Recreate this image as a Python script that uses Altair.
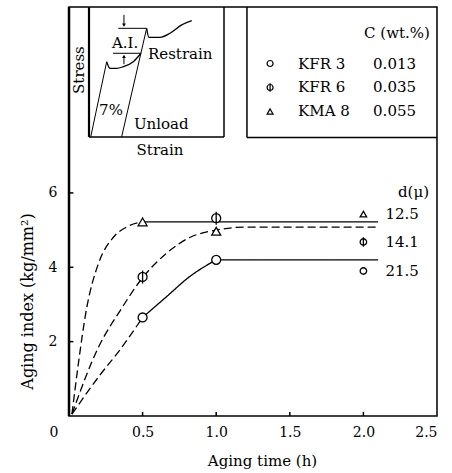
import altair as alt
import pandas as pd

FONT = "DejaVu Serif"

# ---------------- data ----------------
steels = ["KFR 3", "KFR 6", "KMA 8"]
carbon = ["0.013", "0.035", "0.055"]
grain = ["21.5", "14.1", "12.5"]
times = [0.5, 1.0, 2.0]
ai_kfr3 = [2.65, 4.2, 3.9]
ai_kfr6 = [3.74, 5.32, 4.68]
ai_kma8 = [5.22, 4.97, 5.43]

# hand-fitted curves
kma8_rise_t = [0.02, 0.06, 0.12, 0.2, 0.3, 0.4, 0.5]
kma8_rise_v = [0.05, 1.3, 2.9, 4.1, 4.8, 5.1, 5.22]
kma8_flat_t = [0.5, 2.1]
kma8_flat_v = [5.22, 5.22]
kfr6_t = [0.02, 0.2, 0.35, 0.5, 0.66, 0.82, 1.0, 1.2, 2.1]
kfr6_v = [0.05, 1.85, 2.85, 3.72, 4.37, 4.8, 5.0, 5.08, 5.08]
kfr3_rise_t = [0.02, 0.21, 0.35, 0.5]
kfr3_rise_v = [0.05, 1.1, 1.8, 2.65]
kfr3_bend_t = [0.5, 0.66, 0.82, 1.0]
kfr3_bend_v = [2.65, 3.2, 3.75, 4.2]
kfr3_flat_t = [1.0, 2.1]
kfr3_flat_v = [4.2, 4.2]

# inset schematic (strain, stress in % of the inset box)
load_e = [1.3, 13.1]
load_s = [0.2, 57.9]
flow_e = [13.1, 15.6, 20.5, 25.4, 32.8, 38.5]
flow_s = [57.9, 52.8, 52.8, 54.1, 57.9, 64.4]
unload_e = [24.2, 42.7]
unload_s = [0.2, 83.6]
reflow_e = [42.7, 44.4, 52.6, 60.0, 68.7, 76.1]
reflow_s = [83.6, 76.7, 76.7, 79.8, 86.2, 89.5]
ai_top_e = [21.7, 42.7]
ai_top_s = [83.6, 83.6]
ai_bot_e = [17.8, 38.5]
ai_bot_s = [64.4, 64.4]
arrow_dn_e = [25.9, 25.9]
arrow_dn_s = [94.0, 86.0]
arrow_up_e = [25.9, 25.9]
arrow_up_s = [56.0, 62.0]

x_ticks = [0.5, 1.0, 1.5, 2.0, 2.5]
y_ticks = [2, 4, 6]

# ---------------- tables ----------------
def seg_rows(name, style, xs, ys):
    return [dict(seg=name, style=style, t=a, v=b, o=i) for i, (a, b) in enumerate(zip(xs, ys))]

curves = pd.DataFrame(
    seg_rows("kma8a", "dash", kma8_rise_t, kma8_rise_v)
    + seg_rows("kma8b", "solid", kma8_flat_t, kma8_flat_v)
    + seg_rows("kfr6", "dash", kfr6_t, kfr6_v)
    + seg_rows("kfr3a", "dash", kfr3_rise_t, kfr3_rise_v)
    + seg_rows("kfr3b", "solid", kfr3_bend_t, kfr3_bend_v)
    + seg_rows("kfr3c", "solid", kfr3_flat_t, kfr3_flat_v)
)

series_vals = {"KFR 3": ai_kfr3, "KFR 6": ai_kfr6, "KMA 8": ai_kma8}
pts = []
for s in steels:
    for t, v in zip(times, series_vals[s]):
        pts.append(dict(steel=s, t=t, v=v, sz=42 if t == 2.0 else 80))
pts = pd.DataFrame(pts)

lab = pd.DataFrame(dict(steel=steels, d=grain, t=[2.0] * 3,
                        v=[series_vals[s][-1] for s in steels]))

leg_y0, leg_step = 9.48, 0.645
leg = pd.DataFrame(dict(steel=steels, c=carbon,
                        v=[leg_y0 - i * leg_step for i in range(3)],
                        t=[1.366] * 3))

PHI = "M1,0A1,1,0,1,1,-1,0A1,1,0,1,1,1,0M0,-1.45L0,1.45"
shape_scale = alt.Scale(domain=steels, range=["circle", PHI, "triangle-up"])

XS = alt.Scale(domain=[0, 2.5], nice=False, zero=False)
YS = alt.Scale(domain=[0, 11], nice=False, zero=False)

base_axis_x = alt.Axis(values=x_ticks, format=".1f", tickSize=0, domain=False, grid=False,
                       labelFont=FONT, labelFontSize=14, labelColor="black", labelPadding=9,
                       title="Aging  time  (h)", titleFont=FONT, titleFontSize=15,
                       titleFontWeight="normal", titleColor="black",
                       titleX=193, titleY=44, titleBaseline="middle")
base_axis_y = alt.Axis(values=y_ticks, tickSize=0, domain=False, grid=False,
                       labelFont=FONT, labelFontSize=14, labelColor="black", labelPadding=12,
                       title="Aging  index  (kg/mm²)", titleFont=FONT, titleFontSize=16,
                       titleFontWeight="normal", titleColor="black",
                       titleX=-42, titleY=294, titleAngle=270, titleBaseline="middle",
                       titleAlign="center")

lines = alt.Chart(curves).mark_line(color="black", strokeWidth=1.3, interpolate="monotone").encode(
    x=alt.X("t:Q", scale=XS, axis=base_axis_x),
    y=alt.Y("v:Q", scale=YS, axis=base_axis_y),
    detail="seg:N",
    order="o:Q",
    strokeDash=alt.StrokeDash("style:N", scale=alt.Scale(domain=["dash", "solid"],
                                                        range=[[8, 4], [1, 0]]), legend=None),
)

marks = alt.Chart(pts).mark_point(filled=True, fill="white", stroke="black", strokeWidth=1.3, opacity=1).encode(
    x=alt.X("t:Q", scale=XS, axis=None),
    y=alt.Y("v:Q", scale=YS, axis=None),
    shape=alt.Shape("steel:N", scale=shape_scale, legend=None),
    size=alt.Size("sz:Q", scale=None),
)

dlabels = alt.Chart(lab).mark_text(align="left", baseline="middle", dx=22, font=FONT,
                                   fontSize=15, color="black").encode(
    x=alt.X("t:Q", scale=XS, axis=None), y=alt.Y("v:Q", scale=YS, axis=None), text="d:N")

dhead = alt.Chart(pd.DataFrame(dict(t=[2.235], v=[6.02], s=["d(μ)"]))).mark_text(
    align="left", baseline="middle", font=FONT, fontSize=15, color="black").encode(
    x=alt.X("t:Q", scale=XS, axis=None), y=alt.Y("v:Q", scale=YS, axis=None), text="s:N")

zero = alt.Chart(pd.DataFrame(dict(t=[-0.102], v=[-0.47], s=["0"]))).mark_text(
    align="center", baseline="middle", font=FONT, fontSize=14, color="black").encode(
    x=alt.X("t:Q", scale=XS, axis=None), y=alt.Y("v:Q", scale=YS, axis=None), text="s:N")

legm = alt.Chart(leg).mark_point(filled=True, fill="white", stroke="black", strokeWidth=1.2,
                                 opacity=1, size=36).encode(
    x=alt.X("t:Q", scale=XS, axis=None), y=alt.Y("v:Q", scale=YS, axis=None),
    shape=alt.Shape("steel:N", scale=shape_scale, legend=None))
legn = alt.Chart(leg).mark_text(align="left", baseline="middle", dx=28, font=FONT, fontSize=15,
                                color="black").encode(
    x=alt.X("t:Q", scale=XS, axis=None), y=alt.Y("v:Q", scale=YS, axis=None), text="steel:N")
legc = alt.Chart(leg).mark_text(align="left", baseline="middle", dx=103, font=FONT, fontSize=15,
                                color="black").encode(
    x=alt.X("t:Q", scale=XS, axis=None), y=alt.Y("v:Q", scale=YS, axis=None), text="c:N")
leghead = alt.Chart(pd.DataFrame(dict(t=[2.452], v=[10.31], s=["C (wt.%)"]))).mark_text(
    align="right", baseline="middle", font=FONT, fontSize=15, color="black").encode(
    x=alt.X("t:Q", scale=XS, axis=None), y=alt.Y("v:Q", scale=YS, axis=None), text="s:N")

# legend box lines + thick left axis + inner ticks
rules = pd.DataFrame([
    dict(t=1.209, t2=1.209, v=7.49, v2=11.0, w=1.5),
    dict(t=1.209, t2=2.5, v=7.49, v2=7.49, w=1.5),
    dict(t=0.0, t2=0.0, v=0.0, v2=11.0, w=2.5),
] + [dict(t=a, t2=a, v=0.0, v2=0.11, w=1.5) for a in x_ticks[:-1]]
  + [dict(t=0.0, t2=0.03, v=b, v2=b, w=1.5) for b in y_ticks])
rule_layer = alt.Chart(rules).mark_rule(color="black").encode(
    x=alt.X("t:Q", scale=XS, axis=None), x2="t2:Q",
    y=alt.Y("v:Q", scale=YS, axis=None), y2="v2:Q",
    strokeWidth=alt.StrokeWidth("w:Q", scale=None))

# ---------------- inset ----------------
IX = alt.Scale(domain=[0, 100], range=[20, 155], nice=False, zero=False)
IY = alt.Scale(domain=[0, 100], range=[130, 0], nice=False, zero=False)

ins = pd.DataFrame(
    seg_rows("load", "thin", load_e, load_s)
    + seg_rows("flow", "thick", flow_e, flow_s)
    + seg_rows("unload", "thin", unload_e, unload_s)
    + seg_rows("reflow", "thick", reflow_e, reflow_s)
    + seg_rows("aitop", "thin", ai_top_e, ai_top_s)
    + seg_rows("aibot", "thin", ai_bot_e, ai_bot_s)
    + seg_rows("arrdn", "thin", arrow_dn_e, arrow_dn_s)
    + seg_rows("arrup", "thin", arrow_up_e, arrow_up_s)
)
ins_lines = alt.Chart(ins).mark_line(color="black", interpolate="monotone").encode(
    x=alt.X("t:Q", scale=IX, axis=None), y=alt.Y("v:Q", scale=IY, axis=None),
    detail="seg:N", order="o:Q",
    strokeWidth=alt.StrokeWidth("style:N", scale=alt.Scale(domain=["thin", "thick"], range=[1.0, 1.3]),
                                legend=None))

heads = pd.DataFrame(dict(t=[arrow_dn_e[1], arrow_up_e[1]], v=[arrow_dn_s[1], arrow_up_s[1]],
                          sh=["triangle-down", "triangle-up"]))
ins_heads = alt.Chart(heads).mark_point(filled=True, color="black", opacity=1, size=14).encode(
    x=alt.X("t:Q", scale=IX, axis=None), y=alt.Y("v:Q", scale=IY, axis=None),
    shape=alt.Shape("sh:N", scale=None))

box = pd.DataFrame([
    dict(t=0, t2=0, v=0, v2=100, w=2.2),
    dict(t=0, t2=100, v=0, v2=0, w=1.5),
    dict(t=100, t2=100, v=0, v2=100, w=1.5),
])
ins_box = alt.Chart(box).mark_rule(color="black").encode(
    x=alt.X("t:Q", scale=IX, axis=None), x2="t2:Q",
    y=alt.Y("v:Q", scale=IY, axis=None), y2="v2:Q",
    strokeWidth=alt.StrokeWidth("w:Q", scale=None))

ins_c = pd.DataFrame([
    dict(t=26.7, v=72.5, s="A.I."),
    dict(t=16.3, v=20.8, s="7%"),
    dict(t=52.6, v=-10.0, s="Strain"),
])
ins_l = pd.DataFrame([
    dict(t=43.7, v=63.8, s="Restrain"),
    dict(t=33.3, v=10.0, s="Unload"),
])
ins_text_c = alt.Chart(ins_c).mark_text(baseline="middle", align="center", font=FONT, fontSize=15,
                                        color="black").encode(
    x=alt.X("t:Q", scale=IX, axis=None), y=alt.Y("v:Q", scale=IY, axis=None), text="s:N")
ins_text_l = alt.Chart(ins_l).mark_text(baseline="middle", align="left", font=FONT, fontSize=15,
                                        color="black").encode(
    x=alt.X("t:Q", scale=IX, axis=None), y=alt.Y("v:Q", scale=IY, axis=None), text="s:N")
stress = alt.Chart(pd.DataFrame(dict(t=[-7.4], v=[51.5], s=["Stress"]))).mark_text(
    baseline="middle", align="center", angle=270, font=FONT, fontSize=15, color="black").encode(
    x=alt.X("t:Q", scale=IX, axis=None), y=alt.Y("v:Q", scale=IY, axis=None), text="s:N")

chart = alt.layer(
    rule_layer, lines, marks, dlabels, dhead, zero, legm, legn, legc, leghead,
    ins_box, ins_lines, ins_heads, ins_text_c, ins_text_l, stress,
).resolve_scale(x="independent", y="independent", shape="independent", strokeWidth="independent").properties(
    width=368, height=409,
    autosize=alt.AutoSizeParams(type="none"),
    padding={"left": 69, "top": 7, "right": 15, "bottom": 57},
    background="white",
).configure_view(stroke="black", strokeWidth=1.5)

chart.save("out.html", embed_options={"renderer": "svg", "actions": False})
